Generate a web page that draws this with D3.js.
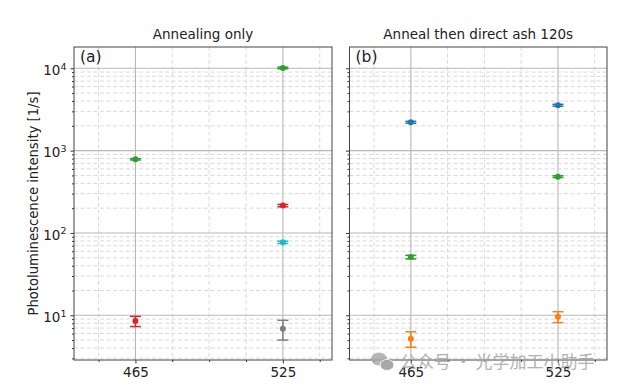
<html>

<head>
  <style>
    body {
      margin: 0;
      background: white;
      font-family: "DejaVu Sans", sans-serif;
    }
  </style>
</head>

<body>
  <svg id="chart"></svg>

  <script src="https://cdn.jsdelivr.net/npm/d3@7"></script>
  <script>
    // 数据
    var wavelengths = [465, 525];
    var panelTitles = ["Annealing only", "Anneal then direct ash 120s"];
    var panelLabels = ["(a)", "(b)"];
    var seriesColors = ["#1f77b4", "#ff7f0e", "#2ca02c", "#d62728", "#7f7f7f", "#17becf"];

    // 每个点：波长, 强度, 误差, 系列编号
    var annealOnly = [
      { wl: 465, value: 785, err: 15, series: 2 },
      { wl: 525, value: 10100, err: 220, series: 2 },
      { wl: 465, value: 8.5, err: 1.2, series: 3 },
      { wl: 525, value: 215, err: 7, series: 3 },
      { wl: 525, value: 77, err: 2.5, series: 5 },
      { wl: 525, value: 6.85, err: 1.85, series: 4 }
    ];
    var annealAsh = [
      { wl: 465, value: 2210, err: 60, series: 0 },
      { wl: 525, value: 3560, err: 90, series: 0 },
      { wl: 465, value: 51, err: 2.5, series: 2 },
      { wl: 525, value: 483, err: 12, series: 2 },
      { wl: 465, value: 5.2, err: 1.1, series: 1 },
      { wl: 525, value: 9.6, err: 1.45, series: 1 }
    ];
    var panelData = [annealOnly, annealAsh];

    var yMajor = [10, 100, 1000, 10000];
    var xMinor = [450, 480, 495, 510, 540];

    // 尺寸
    var width = 617, height = 387;
    var plotTop = 47, plotBottom = 360;
    var panelX = [[74, 332], [349.5, 607]];

    var svg = d3.select("#chart")
      .attr("width", width)
      .attr("height", height);

    var y = d3.scaleLog()
      .domain([2.865, 18140])
      .range([plotBottom, plotTop]);

    // 次刻度 2..9
    var yMinor = [];
    [1, 10, 100, 1000, 10000].forEach(function (d) {
      for (var k = 2; k <= 9; k++) {
        var v = d * k;
        if (v >= y.domain()[0] && v <= y.domain()[1]) yMinor.push(v);
      }
    });

    panelData.forEach(function (data, p) {
      var x = d3.scaleLinear()
        .domain([440, 545])
        .range(panelX[p]);
      var g = svg.append("g");

      // 网格 - 次
      var grid = g.append("g");
      grid.append("g").selectAll("line")
        .data(yMinor)
        .join("line")
        .attr("x1", x.range()[0]).attr("x2", x.range()[1])
        .attr("y1", d => y(d)).attr("y2", d => y(d))
        .attr("stroke", "#d9d9d9")
        .attr("stroke-dasharray", "4,2.5");
      grid.append("g").selectAll("line")
        .data(xMinor)
        .join("line")
        .attr("x1", d => x(d)).attr("x2", d => x(d))
        .attr("y1", plotTop).attr("y2", plotBottom)
        .attr("stroke", "#d9d9d9")
        .attr("stroke-dasharray", "4,2.5");
      // 网格 - 主
      g.append("g").selectAll("line")
        .data(yMajor)
        .join("line")
        .attr("x1", x.range()[0]).attr("x2", x.range()[1])
        .attr("y1", d => y(d)).attr("y2", d => y(d))
        .attr("stroke", "#b8b8b8")
        .attr("stroke-width", 1.1);
      g.append("g").selectAll("line")
        .data(wavelengths)
        .join("line")
        .attr("x1", d => x(d)).attr("x2", d => x(d))
        .attr("y1", plotTop).attr("y2", plotBottom)
        .attr("stroke", "#b8b8b8")
        .attr("stroke-width", 1.1);

      // 误差棒
      var pts = g.append("g").selectAll("g")
        .data(data)
        .join("g")
        .attr("stroke", d => seriesColors[d.series])
        .attr("fill", d => seriesColors[d.series]);
      pts.append("line")
        .attr("x1", d => x(d.wl)).attr("x2", d => x(d.wl))
        .attr("y1", d => y(d.value - d.err)).attr("y2", d => y(d.value + d.err))
        .attr("stroke-width", 1.5);
      pts.selectAll(".cap")
        .data(d => [d.value - d.err, d.value + d.err].map(v => ({ wl: d.wl, v: v })))
        .join("line")
        .attr("x1", d => x(d.wl) - 5.5).attr("x2", d => x(d.wl) + 5.5)
        .attr("y1", d => y(d.v)).attr("y2", d => y(d.v))
        .attr("stroke-width", 1.5);
      pts.append("circle")
        .attr("cx", d => x(d.wl))
        .attr("cy", d => y(d.value))
        .attr("r", 3)
        .attr("stroke", "none");

      // X 轴
      var xAxis = g.append("g")
        .attr("transform", "translate(0," + plotBottom + ")")
        .call(d3.axisBottom(x).tickValues(wavelengths).tickSize(3.5).tickPadding(4));
      xAxis.select(".domain").remove();
      xAxis.selectAll("text").attr("font-size", "13.5px").attr("fill", "#222")
        .attr("font-family", "DejaVu Sans");
      xAxis.selectAll("line").attr("stroke", "#333");
      g.append("g")
        .attr("transform", "translate(0," + plotBottom + ")")
        .call(d3.axisBottom(x).tickValues(xMinor).tickSize(2).tickFormat(""))
        .call(a => a.select(".domain").remove())
        .selectAll("line").attr("stroke", "#333");

      // Y 轴
      var yAxis = g.append("g")
        .attr("transform", "translate(" + x.range()[0] + ",0)")
        .call(d3.axisLeft(y).tickValues(yMajor).tickSize(3.5).tickPadding(4).tickFormat(() => ""));
      yAxis.select(".domain").remove();
      yAxis.selectAll("line").attr("stroke", "#333");
      if (p == 0) {
        yAxis.selectAll(".tick text")
          .attr("font-size", "13.5px")
          .attr("fill", "#222")
          .attr("font-family", "DejaVu Sans")
          .attr("dy", "0.45em")
          .each(function (d) {
            var t = d3.select(this);
            t.append("tspan").text("10");
            t.append("tspan").attr("dy", "-0.55em").attr("font-size", "9.5px").text(Math.round(Math.log10(d)));
          });
      }
      g.append("g")
        .attr("transform", "translate(" + x.range()[0] + ",0)")
        .call(d3.axisLeft(y).tickValues(yMinor).tickSize(2).tickFormat(""))
        .call(a => a.select(".domain").remove())
        .selectAll("line").attr("stroke", "#333");

      // 边框
      g.append("rect")
        .attr("x", x.range()[0]).attr("y", plotTop)
        .attr("width", x.range()[1] - x.range()[0])
        .attr("height", plotBottom - plotTop)
        .attr("fill", "none")
        .attr("stroke", "#444")
        .attr("stroke-width", 1);

      // 标题
      g.append("text")
        .attr("x", (x.range()[0] + x.range()[1]) / 2)
        .attr("y", 39)
        .attr("text-anchor", "middle")
        .attr("font-size", "13.5px")
        .attr("fill", "#222")
        .text(panelTitles[p]);
      g.append("text")
        .attr("x", x.range()[0] + 6)
        .attr("y", 62)
        .attr("font-size", "15.5px")
        .attr("fill", "#222")
        .text(panelLabels[p]);
    });

    // Y 轴标题
    svg.append("text")
      .attr("transform", "translate(37.5," + (plotTop + plotBottom) / 2 + ") rotate(-90)")
      .attr("text-anchor", "middle")
      .attr("font-size", "13.2px")
      .attr("fill", "#222")
      .text("Photoluminescence intensity [1/s]");

    // 水印
    var wm = svg.append("g").attr("opacity", 0.85);
    wm.append("ellipse").attr("cx", 379).attr("cy", 359).attr("rx", 8).attr("ry", 6.5).attr("fill", "#aaa");
    wm.append("ellipse").attr("cx", 387).attr("cy", 365).attr("rx", 7).attr("ry", 5.5).attr("fill", "#999")
      .attr("stroke", "white").attr("stroke-width", 1);
    wm.append("text")
      .attr("x", 400)
      .attr("y", 368)
      .attr("font-family", "Noto Sans CJK SC")
      .attr("font-size", "17px")
      .attr("fill", "#a5a5a5")
      .text("公众号 · 光学加工小助手");
  </script>
</body>

</html>
